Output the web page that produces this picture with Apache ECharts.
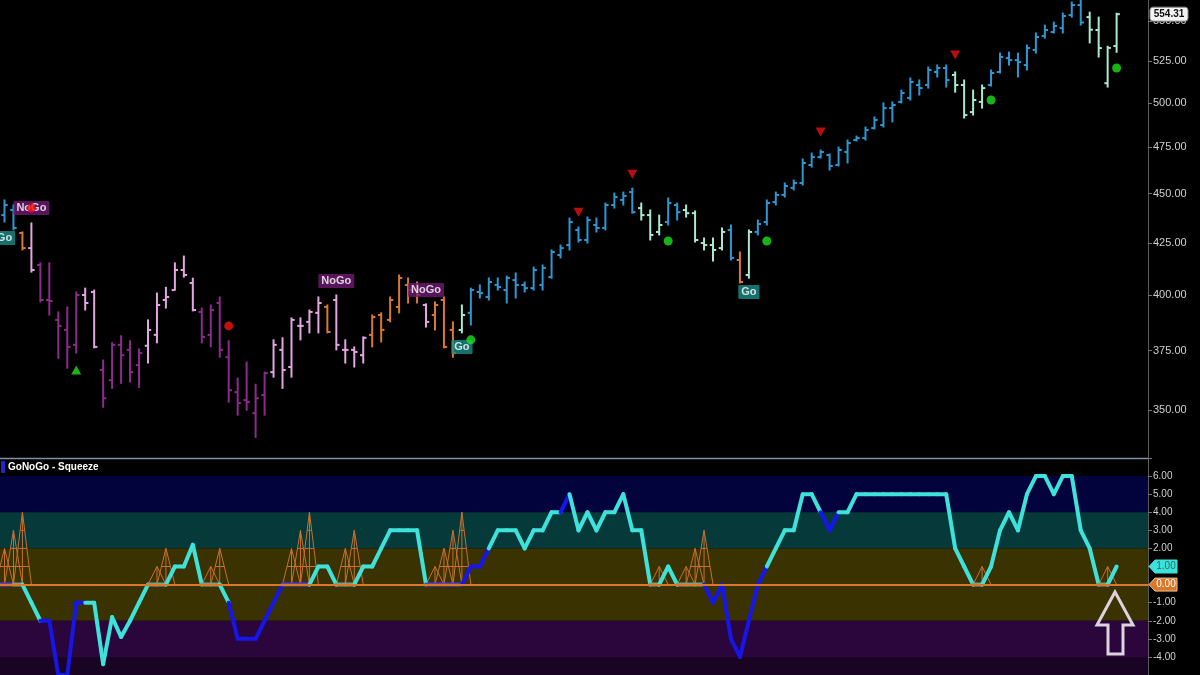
<!DOCTYPE html>
<html>
<head>
<meta charset="utf-8">
<script src="https://cdn.jsdelivr.net/npm/echarts@6/dist/echarts.min.js"></script>
<style>html,body{margin:0;padding:0;background:#000;}#c{width:1200px;height:675px;}</style>
</head>
<body>
<div id="c"></div>
<script>
// ---------- weekly OHLC (price panel) ----------
const opens = [438.9,441.5,429.9,422.4,414.2,397.7,388.6,384.1,377.5,400.0,401.4,366.6,362.3,377.5,375.3,368.7,377.1,381.9,397.7,402.3,
411.8,405.6,392.2,381.9,396.3,372.1,357.3,354.0,348.7,356.1,365.7,375.3,367.9,385.9,387.7,391.8,394.5,397.7,375.3,375.3,
373.0,381.9,390.8,388.6,394.5,404.7,402.3,395.4,390.8,397.7,384.1,384.1,391.8,401.4,399.1,404.7,402.3,407.0,404.7,403.2,
404.7,408.4,419.0,423.9,431.4,426.4,433.9,432.4,444.1,446.7,450.8,442.5,438.9,430.4,435.4,444.1,441.5,439.9,424.9,423.9,
422.4,431.4,416.6,409.4,430.4,435.4,445.6,449.3,453.0,455.6,465.2,469.5,470.6,465.2,472.3,478.9,480.0,485.6,487.3,497.0,
500.6,502.9,510.5,510.5,518.3,520.7,516.5,510.5,494.7,500.6,510.5,518.3,526.7,525.5,522.5,531.7,540.4,542.9,545.4,553.7,
560.2,552.4,544.2,511.6,534.2];
const highs = [446.7,444.1,430.4,434.9,415.2,415.2,392.2,394.5,401.4,403.2,402.3,370.9,378.4,381.5,379.3,375.7,388.6,400.9,403.6,415.2,
418.5,407.9,394.0,395.4,399.1,379.3,363.2,370.0,360.6,365.7,379.7,380.6,389.5,389.5,393.1,399.1,395.4,400.0,379.7,376.6,
381.0,390.8,391.8,399.1,409.4,408.0,406.1,395.9,396.8,399.1,387.7,395.4,403.2,404.7,408.0,408.0,408.9,410.4,406.1,413.2,
414.2,421.5,423.9,437.4,432.9,437.9,437.4,445.1,450.3,450.8,452.9,445.1,441.5,438.9,447.7,445.1,444.1,441.0,427.4,427.4,
432.4,433.9,420.5,431.4,436.4,446.7,450.8,455.6,457.2,468.5,471.7,473.4,471.2,475.0,478.9,481.1,486.2,491.9,500.0,500.6,
507.5,514.7,513.5,521.3,522.5,522.5,518.3,513.5,507.5,510.5,519.5,529.8,530.4,529.8,534.8,542.3,547.3,549.2,555.0,562.2,
565.2,555.6,552.4,534.0,554.9];
const lows = [435.4,431.4,421.5,410.8,396.8,390.8,371.7,367.4,373.9,393.1,376.2,351.1,358.9,361.0,361.5,359.3,369.6,378.4,394.0,402.3,
408.4,392.7,378.4,376.6,372.1,353.2,347.9,349.9,339.0,347.9,363.6,358.9,363.6,379.7,382.8,382.8,382.8,375.3,369.6,367.9,
369.6,376.6,378.8,387.7,391.8,396.3,396.3,385.4,384.1,376.2,372.1,382.8,386.3,398.6,397.7,402.3,396.3,398.6,401.4,402.3,
402.3,407.9,417.6,421.5,425.4,424.9,430.4,431.4,442.5,444.1,439.9,436.4,426.4,428.9,433.9,436.4,437.9,425.4,421.5,416.1,
421.5,416.6,405.6,407.9,428.9,433.9,444.1,448.2,451.9,454.5,464.1,469.0,462.5,464.7,466.3,478.4,478.9,485.1,486.2,489.1,
500.0,501.7,504.6,508.7,515.3,509.3,506.3,491.3,493.0,497.0,509.9,517.7,522.5,515.3,519.5,529.8,539.1,542.3,542.3,552.4,
547.3,536.1,527.4,509.3,530.3];
const closes = [444.1,432.4,422.4,411.8,397.7,397.2,385.9,376.6,400.0,396.3,376.6,354.8,377.5,373.0,365.7,373.9,384.1,395.4,399.1,411.8,
409.4,393.1,381.0,393.1,375.3,358.1,352.8,353.2,354.8,365.3,377.5,366.6,388.6,385.9,392.2,396.3,383.2,377.5,375.3,374.4,
380.6,389.9,384.1,397.7,408.0,402.3,400.0,387.7,395.4,376.6,373.9,390.8,402.3,400.9,406.1,403.7,408.0,404.7,403.2,411.8,
412.8,420.5,422.4,435.4,426.4,436.4,432.4,444.1,448.2,448.8,440.4,438.9,428.9,433.9,445.1,440.4,439.9,426.4,423.9,421.5,
430.4,417.6,406.1,430.4,434.4,445.1,449.3,454.0,455.6,466.3,469.5,472.3,464.7,473.4,477.2,480.0,484.5,490.2,497.0,498.8,
505.8,512.3,508.7,519.5,520.7,513.5,510.5,493.0,501.7,508.7,517.7,527.4,525.5,524.3,532.9,539.8,544.2,546.7,553.1,560.2,
549.0,544.4,532.9,533.0,554.31];
// bar colour regime: B strong Go, A weak Go, O neutral, P weak NoGo, M strong NoGo
const barRegime = "BB"+"O"+"P"+"MMMMM"+"PP"+"MMMMM"+"PPPPPP"+"MMMMMMMM"+"PPPPPP"+"O"+"PPPP"+"OOOOOO"+"P"+"OOO"+"A"+
  "BBBBBBBBBBBBBBBBBBB"+"AAA"+"BB"+"AAAAA"+"B"+"O"+"A"+"BBBBBBBBBBBBBBBBBBBBBB"+"AAAA"+"BBBBBBBBBBB"+"AAAA";
const priceTicks = [350,375,400,425,450,475,500,525,550];

// signals on price panel: [barIndex, price]
const redDots = [[3,442.5],[25,385.9]];
const greenTriangles = [[8,366.6]];
const greenDots = [[52,379.7],[74,425.9],[85,425.9],[110,501.7],[124,520.7]];
const redTriangles = [[64,440.4],[70,460.3],[91,483.4],[106,528.6]];
const tags = [[0,427.4,"Go"],[3,442.5,"NoGo"],[37,406.6,"NoGo"],[47,402.3,"NoGo"],[51,376.6,"Go"],[83,401.4,"Go"]];

// ---------- oscillator panel ----------
const oscValues = [0,0,0,-1,-2,-2,-5,-5,-1,-1,-1,-4.4,-1.8,-2.9,-2,-1,0,0,0,1,
1,2.2,0,0,0,-1,-3,-3,-3,-2,-1,0,0,0,0,1,1,0,0,0,
1,1,2,3,3,3,3,0,0,0,0,0,1,1,2,3,3,3,2,3,
3,4,4,5,3,4,3,4,4,5,3,3,0,0,1,0,0,0,0,-1,
0,-3,-4,-2,0,1,2,3,3,5,5,4,3,4,4,5,5,5,5,5,
5,5,5,5,5,5,2,1,0,0,1,3,4,3,5,6,6,5,6,6,
3,2,0,0,1];
// line colour per segment: C cyan, B blue, G grey (squeeze), P purple
const oscRegime = "PP"+"G"+"CC"+"BBBBB"+"CCCCCCC"+"GG"+"CCCC"+"GG"+"C"+"BBBBBB"+"PPP"+"CCC"+"GG"+"CCCCCCCC"+"PPPP"+"BBB"+
  "CCCCCCCC"+"B"+"CCCCCCCCC"+"G"+"CC"+"GGG"+"BBBBBBB"+"CCCCCC"+"BB"+"CCCCCCCCCCCCCCC"+"G"+"CCCCCCCCCCCCC"+"G"+"C";
// squeeze grid heights: [barIndex, height]
const squeeze = [[0,2],[1,3],[2,4],[17,1],[18,2],[23,1],[24,2],[32,2],[33,3],[34,4],[38,2],[39,3],
  [48,1],[49,2],[50,3],[51,4],[73,1],[76,1],[77,2],[78,3],[109,1],[123,1]];

// ---------- chart ----------
const SLOTS = 128;
const cats = Array.from({length: SLOTS}, (_, i) => String(i));
const barColors = {B:'#2b98d4', A:'#a9e9cf', O:'#d9782f', P:'#e3a6e3', M:'#8e2a8e'};
const oscColors = {C:'#3ee2da', B:'#1616e8', G:'#7d9d8b', P:'#5a40c8'};
const FONT = 'Liberation Sans, Arial, sans-serif';

const ohlcData = opens.map((o, i) => [i, o, highs[i], lows[i], closes[i], barRegime.charCodeAt(i)]);
const oscData = oscValues.map((v, i) => [i, i > 0 ? oscValues[i - 1] : v, v, oscRegime.charCodeAt(i)]);

const chart = echarts.init(document.getElementById('c'));
const option = {
  backgroundColor: '#000',
  animation: false,
  grid: [
    {left: -1.5, right: 52, top: 0, height: 458},
    {left: -1.5, right: 52, top: 458, bottom: 0}
  ],
  xAxis: [
    {type: 'category', gridIndex: 0, data: cats, show: false},
    {type: 'category', gridIndex: 1, data: cats, show: false}
  ],
  yAxis: [
    {type: 'log', gridIndex: 0, position: 'right', min: 331, max: 563.5,
     axisLine: {show: true, lineStyle: {color: '#5a5a5a', width: 1}},
     axisTick: {show: true, length: 4, lineStyle: {color: '#777'}, customValues: priceTicks},
     axisLabel: {color: '#d0d0d0', fontSize: 11, fontFamily: FONT, margin: 5, customValues: priceTicks,
                 formatter: v => Number(v).toFixed(2)},
     splitLine: {show: false}},
    {type: 'value', gridIndex: 1, position: 'right', min: -5, max: 7, interval: 1,
     axisLine: {show: true, lineStyle: {color: '#5a5a5a', width: 1}},
     axisTick: {show: true, length: 4, lineStyle: {color: '#777'}},
     axisLabel: {color: '#d0d0d0', fontSize: 10, fontFamily: FONT, margin: 5,
                 formatter: v => (v >= 7 || v <= -5) ? '' : v.toFixed(2)},
     splitLine: {show: false}}
  ],
  series: [
    {
      type: 'custom', name: 'price', xAxisIndex: 0, yAxisIndex: 0, clip: true, z: 3,
      data: ohlcData,
      encode: {x: 0, y: [1, 2, 3, 4]},
      renderItem: (params, api) => {
        const i = api.value(0);
        const o = api.coord([i, api.value(1)]);
        const h = api.coord([i, api.value(2)]);
        const l = api.coord([i, api.value(3)]);
        const c = api.coord([i, api.value(4)]);
        const col = barColors[String.fromCharCode(api.value(5))];
        const w = api.size([1, api.value(4)])[0] * 0.36;
        const st = {stroke: col, lineWidth: 2};
        return {type: 'group', children: [
          {type: 'line', shape: {x1: h[0], y1: h[1] - 0.5, x2: l[0], y2: l[1] + 0.5}, style: st},
          {type: 'line', shape: {x1: o[0] - w, y1: o[1], x2: o[0], y2: o[1]}, style: st},
          {type: 'line', shape: {x1: c[0], y1: c[1], x2: c[0] + w, y2: c[1]}, style: st}
        ]};
      }
    },
    {
      type: 'scatter', xAxisIndex: 0, yAxisIndex: 0, z: 5,
      data: tags.map(t => ({value: [t[0], t[1]], label: {formatter: t[2],
        backgroundColor: t[2] === 'Go' ? '#1b8c8a' : '#6e1a72'}})),
      symbolSize: 0,
      label: {show: true, position: 'inside', color: '#fff', fontSize: 11, fontWeight: 'bold',
              fontFamily: FONT, padding: [2, 3, 1, 3], borderRadius: 1}
    },
    {type: 'scatter', xAxisIndex: 0, yAxisIndex: 0, z: 6, data: redDots, symbol: 'circle', symbolSize: 9,
     itemStyle: {color: '#f01414'}},
    {type: 'scatter', xAxisIndex: 0, yAxisIndex: 0, z: 6, data: greenDots, symbol: 'circle', symbolSize: 9,
     itemStyle: {color: '#1ee01e'}},
    {type: 'scatter', xAxisIndex: 0, yAxisIndex: 0, z: 6, data: greenTriangles, symbol: 'triangle', symbolSize: [10, 9],
     itemStyle: {color: '#22e022'}},
    {type: 'scatter', xAxisIndex: 0, yAxisIndex: 0, z: 6, data: redTriangles, symbol: 'triangle', symbolSize: [10, 9],
     symbolRotate: 180, itemStyle: {color: '#e81010'}},
    // squeeze grid + bands + zero line
    {
      type: 'custom', name: 'squeeze', xAxisIndex: 1, yAxisIndex: 1, z: 2,
      data: squeeze,
      renderItem: (params, api) => {
        const i = api.value(0), h = api.value(1);
        const p = api.coord([i, 0]);
        const top = api.coord([i, h]);
        const bw = api.size([1, 0])[0];
        const st = {stroke: '#c8702c', lineWidth: 1, fill: null};
        const ch = [
          {type: 'polyline', shape: {points: [[p[0] - bw, p[1]], top, [p[0] + bw, p[1]]]}, style: st},
          {type: 'line', shape: {x1: p[0], y1: p[1], x2: top[0], y2: top[1]}, style: st}
        ];
        for (let k = 1; k < h; k++) {
          const y = api.coord([i, k])[1];
          const hw = bw * (1 - k / h);
          ch.push({type: 'line', shape: {x1: p[0] - hw, y1: y, x2: p[0] + hw, y2: y}, style: st});
        }
        return {type: 'group', children: ch};
      },
      markArea: {
        silent: true,
        data: [
          [{yAxis: 4, itemStyle: {color: '#02023c'}}, {yAxis: 6}],
          [{yAxis: 2, itemStyle: {color: '#063a3a'}}, {yAxis: 4}],
          [{yAxis: -2, itemStyle: {color: '#3a3200'}}, {yAxis: 2}],
          [{yAxis: -4, itemStyle: {color: '#2a063c'}}, {yAxis: -2}],
          [{yAxis: -5, itemStyle: {color: '#1a0424'}}, {yAxis: -4}]
        ]
      },
      markLine: {
        silent: true, symbol: 'none', label: {show: false},
        lineStyle: {color: '#d9782a', width: 2, type: 'solid'},
        data: [{yAxis: 0}]
      }
    },
    {
      type: 'custom', name: 'osc', xAxisIndex: 1, yAxisIndex: 1, z: 4, clip: true,
      data: oscData,
      renderItem: (params, api) => {
        const i = api.value(0);
        const b = api.coord([i, api.value(2)]);
        const a = i > 0 ? api.coord([i - 1, api.value(1)]) : [b[0] - 5, b[1]];
        const col = oscColors[String.fromCharCode(api.value(3))];
        return {type: 'line', shape: {x1: a[0], y1: a[1], x2: b[0], y2: b[1]},
                style: {stroke: col, lineWidth: 4, lineCap: 'round'}};
      }
    }
  ]
};
chart.setOption(option);

// value tags on the right axis, positioned from data
const lastClose = closes[closes.length - 1];
const lastOsc = oscValues[oscValues.length - 1];
const yPrice = chart.convertToPixel({yAxisIndex: 0}, lastClose);
const yOsc = chart.convertToPixel({yAxisIndex: 1}, lastOsc);
const yZero = chart.convertToPixel({yAxisIndex: 1}, 0);
function tag(y, fill, stroke, text, textColor) {
  const x0 = 1149, x1 = 1177, hh = 6.5;
  return [
    {type: 'polygon', shape: {points: [[x0, y], [x0 + 6, y - hh], [x1, y - hh], [x1, y + hh], [x0 + 6, y + hh]]},
     style: {fill: fill, stroke: stroke, lineWidth: 1}, z: 20},
    {type: 'text', x: (x0 + 6 + x1) / 2, y: y, style: {text: text, fill: textColor, font: '10px ' + FONT,
     align: 'center', verticalAlign: 'middle'}, z: 21}
  ];
}
chart.setOption({
  graphic: [
    {type: 'rect', shape: {x: 1150, y: yPrice - 7, width: 38, height: 14, r: 3},
     style: {fill: '#f4f4f4', stroke: '#888', lineWidth: 1}, z: 20},
    {type: 'text', x: 1169, y: yPrice, style: {text: lastClose.toFixed(2), fill: '#111',
     font: 'bold 10px ' + FONT, align: 'center', verticalAlign: 'middle'}, z: 21},
    ...tag(yOsc, '#3ee2da', '#3ee2da', lastOsc.toFixed(2), '#1d6f70'),
    ...tag(yZero, '#d9782a', '#f0c090', (0).toFixed(2), '#ffffff'),
    {type: 'line', shape: {x1: 0, y1: 458.5, x2: 1148, y2: 458.5}, style: {stroke: '#8090a0', lineWidth: 1.5}, z: 20},
    {type: 'rect', shape: {x: 1, y: 461, width: 4, height: 12}, style: {fill: '#2424c8'}, z: 20},
    {type: 'text', x: 8, y: 467, style: {text: 'GoNoGo - Squeeze', fill: '#ffffff', font: 'bold 10px ' + FONT,
     verticalAlign: 'middle'}, z: 21},
    {type: 'polygon', shape: {points: [[1115, 592], [1133, 625], [1123, 625], [1123, 654], [1108, 654], [1108, 625], [1097, 625]]},
     style: {fill: null, stroke: '#ddd2dd', lineWidth: 3}, z: 22}
  ]
});
</script>
</body>
</html>
